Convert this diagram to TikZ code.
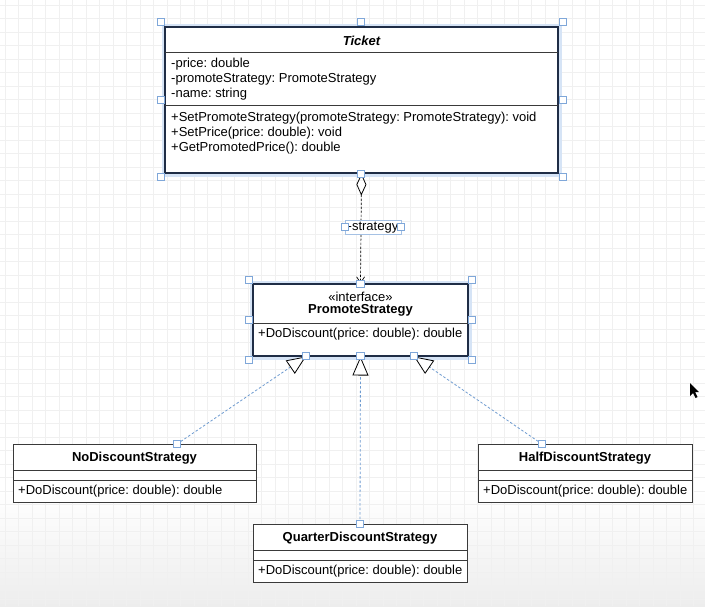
\documentclass[tikz,border=0pt]{standalone}
\usepackage{fontspec}
\setmainfont{Liberation Sans}
\usetikzlibrary{arrows.meta,calc}
\frenchspacing

\definecolor{gridgray}{HTML}{F0F0F0}
\definecolor{selblue}{HTML}{7FA7D9}
\definecolor{glowblue}{HTML}{D6E4F6}
\definecolor{navy}{HTML}{1F2D46}
\definecolor{boxgray}{HTML}{3A3A3A}
\definecolor{linkblue}{HTML}{6E9BD0}

\tikzset{
  every node/.style={font=\fontsize{13}{15}\selectfont, inner sep=0pt},
  classbox/.style={draw=boxgray, line width=0.8pt, fill=white},
  selbox/.style={draw=navy, line width=1.1pt, fill=white},
  glow/.style={draw=glowblue, line width=7pt},
  handle/.style={draw=selblue, fill=white, line width=0.8pt, minimum size=7.5pt},
  sepline/.style={draw=boxgray, line width=0.7pt},
  member/.style={anchor=west},
  title/.style={font=\fontsize{13}{15}\selectfont\bfseries},
  realize/.style={draw=linkblue, line width=0.8pt, dash pattern=on 2.5pt off 2pt,
    -{Triangle[open, length=19pt, width=16pt, color=black, fill=white, line width=0.8pt]}},
  assoc/.style={draw=black, line width=0.7pt, dash pattern=on 2.5pt off 1.5pt,
    {Diamond[open, length=22pt, width=10pt, line width=0.8pt]}-{Straight Barb[length=6pt, width=8pt, line width=0.7pt]}},
}

\begin{document}
\begin{tikzpicture}[x=1pt, y=-1pt]
\useasboundingbox (0,0) rectangle (705,606);

% canvas background with grid
\fill[white] (0,0) rectangle (705,606);
\shade[top color=white, bottom color=black!7] (0,490) rectangle (705,606);
\foreach \gx in {5,18.5,...,705} \draw[gridgray, line width=0.5pt] (\gx,0) -- (\gx,606);
\foreach \gy in {5,18.5,...,606} \draw[gridgray, line width=0.5pt] (0,\gy) -- (705,\gy);

% ---------- Ticket ----------
\draw[glow] (165,27) rectangle (558,173);
\node[selbox, minimum width=393pt, minimum height=146pt] (ticket) at (361.5,100) {};
\draw[sepline] (165,52.5) -- (558,52.5);
\draw[sepline] (165,105.5) -- (558,105.5);
\node[font=\fontsize{13}{15}\selectfont\bfseries\itshape] (ticketname) at (361.5,40.5) {Ticket};
\node[member] (a1) at (171,64) {-price: double};
\node[member] (a2) at (171,79) {-promoteStrategy: PromoteStrategy};
\node[member] (a3) at (171,94) {-name: string};
\node[member] (m1) at (171,118) {+SetPromoteStrategy(promoteStrategy: PromoteStrategy): void};
\node[member] (m2) at (171,133) {+SetPrice(price: double): void};
\node[member] (m3) at (171,148) {+GetPromotedPrice(): double};

% ---------- PromoteStrategy ----------
\draw[glow] (253,284) rectangle (468,356);
\node[selbox, minimum width=215pt, minimum height=72pt] (iface) at (360.5,320) {};
\draw[sepline] (253,323) -- (468,323);
\node (stereo) at (360.5,296.5) {«interface»};
\node[title] (ifname) at (360.5,310.5) {PromoteStrategy};
\node[member] (ifm) at (258,334) {+DoDiscount(price: double): double};

% ---------- concrete strategies ----------
\node[classbox, minimum width=243pt, minimum height=58pt] (nods) at (134.5,473) {};
\draw[sepline] (13,470) -- (256,470);
\draw[sepline] (13,480) -- (256,480);
\node[title] (nodsname) at (134.5,458.5) {NoDiscountStrategy};
\node[member] (nodsm) at (18,491.5) {+DoDiscount(price: double): double};

\node[classbox, minimum width=214pt, minimum height=58pt] (halfs) at (585,473) {};
\draw[sepline] (478,470) -- (692,470);
\draw[sepline] (478,480) -- (692,480);
\node[title] (halfsname) at (585,458.5) {HalfDiscountStrategy};
\node[member] (halfsm) at (483,491.5) {+DoDiscount(price: double): double};

\node[classbox, minimum width=214pt, minimum height=58pt] (quarts) at (360,553) {};
\draw[sepline] (253,550) -- (467,550);
\draw[sepline] (253,560) -- (467,560);
\node[title] (quartsname) at (360,538.5) {QuarterDiscountStrategy};
\node[member] (quartsm) at (258,571.5) {+DoDiscount(price: double): double};

% ---------- connectors ----------
\coordinate (ifl) at (306,356.5);
\coordinate (ifc) at (360.5,356.5);
\coordinate (ifr) at (414,356.5);
\coordinate (nodstop) at (177,444);
\coordinate (halfstop) at (542,444);

\draw[assoc] (ticket.south) -- (iface.north);
\node[draw=selblue!70, fill=white, line width=0.6pt, minimum width=56pt, minimum height=14pt] (rolebox) at (373,227) {};
\node (role) at (373,227.5) {-strategy};

\draw[realize] (nodstop) -- (ifl);
\draw[realize] (quarts.north) -- (ifc);
\draw[realize] (halfstop) -- (ifr);

% ---------- selection handles ----------
\foreach \hx/\hy [count=\i] in {161/22, 361/22, 563/22, 161/100, 563/100, 161/177, 563/177, 361/174,
    345/227, 401/227,
    249/280, 472/280, 249/320, 472/320, 249/360, 472/360, 360.5/284,
    306/356, 360.5/356, 414/356,
    177/444, 542/444, 360/524}
  \node[handle] (h\i) at (\hx,\hy) {};

% mouse pointer
\fill[black] (690,383) -- (690,396) -- (693,393) -- (695.5,398) -- (697.5,397) -- (695,392) -- (699,392) -- cycle;
\end{tikzpicture}
\end{document}
